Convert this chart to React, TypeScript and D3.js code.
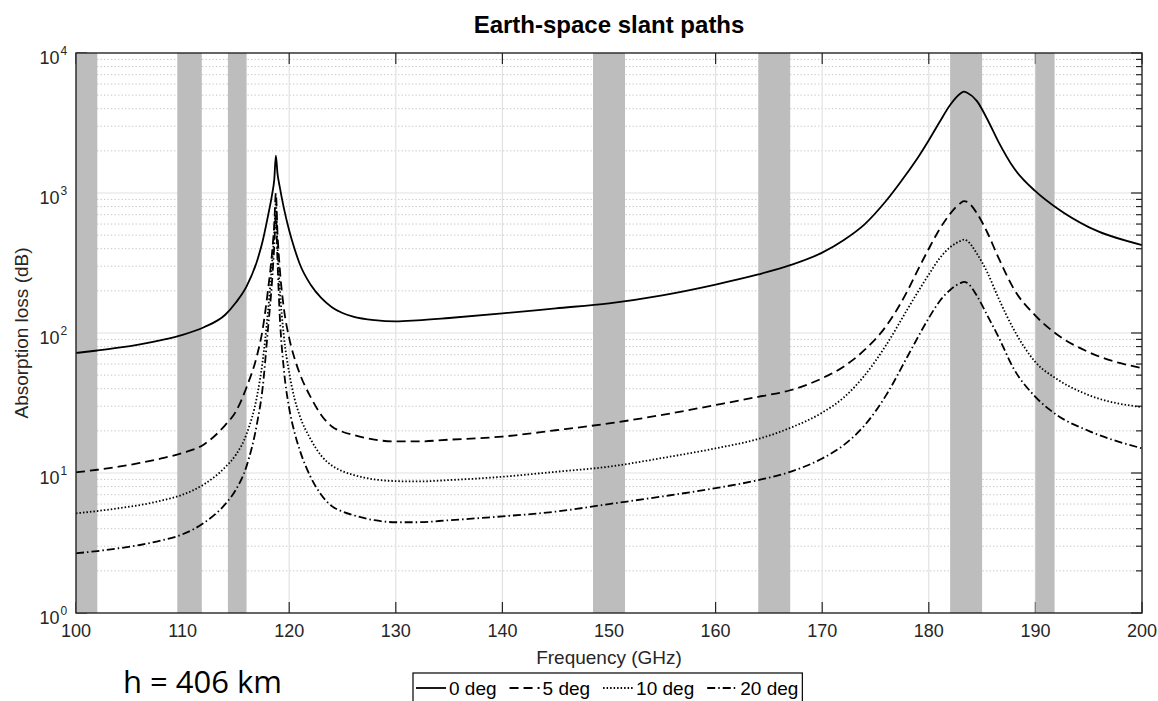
import React, { useEffect, useRef } from 'react';
import * as d3 from 'd3';

// frequency grid (GHz) shared by all four elevation curves
const freqGHz = [100, 102, 104, 106, 108, 110, 112, 114, 115, 116, 117, 117.5, 118, 118.4, 118.6, 118.75, 118.9, 119.1, 119.5, 120, 120.5, 121, 122, 123, 124, 125, 126, 128, 130, 132, 135, 140, 145, 150, 155, 160, 164, 167, 170, 172, 174, 176, 178, 179, 180, 181, 182, 183, 183.3, 183.6, 184.5, 185.5, 186.5, 188, 190, 192, 195, 200];

// absorption loss (dB)
const loss0deg = [72, 75, 78.5, 83, 89, 97, 110, 135, 165, 215, 330, 450, 680, 980, 1250, 1850, 1380, 1120, 780, 540, 400, 310, 222, 178, 153, 139, 131, 123.5, 121, 123, 128, 138, 150, 163, 186, 222, 262, 305, 375, 460, 600, 880, 1400, 1800, 2380, 3200, 4250, 5150, 5300, 5200, 4550, 3350, 2350, 1500, 1030, 780, 570, 425];
const loss5deg = [10.1, 10.55, 11.1, 11.8, 12.7, 13.9, 16.0, 22, 27.5, 41, 70, 105, 200, 380, 600, 1000, 520, 300, 150, 92, 66, 51, 35, 26, 21.5, 19.7, 18.7, 17.3, 16.8, 16.8, 17.3, 18.2, 20.2, 22.6, 26, 30.6, 35, 39, 47.5, 57.5, 76, 112, 200, 285, 400, 550, 710, 850, 875, 865, 720, 520, 350, 205, 133, 98, 73, 56];
const loss10deg = [5.15, 5.35, 5.6, 5.9, 6.35, 7.0, 8.3, 11, 13.5, 19, 36, 62, 140, 320, 520, 850, 420, 220, 95, 52, 34, 25.5, 17.5, 13.3, 11.3, 10.3, 9.7, 9.0, 8.75, 8.7, 8.9, 9.4, 10.2, 11.1, 12.8, 15, 17.5, 21, 27, 34.5, 50, 82, 148, 198, 262, 340, 410, 455, 465, 455, 370, 270, 180, 105, 62, 47, 36, 29.5];
const loss20deg = [2.67, 2.77, 2.9, 3.06, 3.3, 3.65, 4.4, 6.0, 7.6, 11.2, 23, 40, 105, 240, 420, 700, 330, 140, 55, 29, 19.5, 14.5, 9.4, 7.0, 5.8, 5.3, 5.0, 4.6, 4.45, 4.45, 4.6, 4.9, 5.3, 6.0, 6.8, 7.8, 8.9, 10.2, 12.7, 15.8, 22, 36, 68, 94, 128, 168, 203, 228, 232, 228, 185, 133, 95, 55, 35, 26, 20, 15];

const seriesNames = ['0 deg', '5 deg', '10 deg', '20 deg'];
const seriesValues = [loss0deg, loss5deg, loss10deg, loss20deg];
const seriesDash = ['none', '9,5', '1.5,2', '8,3,1.5,3'];

// passive bands (GHz), shaded grey
const bandStart = [100, 109.5, 114.25, 148.5, 164, 182, 190];
const bandEnd = [102, 111.8, 116, 151.5, 167, 185, 191.8];

const xTicks = [100, 110, 120, 130, 140, 150, 160, 170, 180, 190, 200];
const yDecades = [1, 10, 100, 1000, 10000];
const yExponents = ['0', '1', '2', '3', '4'];

const font = '"Liberation Sans", Arial, Helvetica, sans-serif';

export default function App() {
  const ref = useRef<SVGSVGElement>(null);

  const W = 1158;
  const H = 701;
  const margin = { top: 53, right: 16, bottom: 88, left: 76 };

  useEffect(() => {
    document.body.style.margin = '0';
    document.body.style.overflow = 'hidden';

    const svg = d3.select(ref.current);
    svg.selectAll('*').remove();

    const x = d3.scaleLinear().domain([100, 200]).range([margin.left, W - margin.right]);
    const y = d3.scaleLog().domain([1, 1e4]).range([H - margin.bottom, margin.top]);
    const [x0, x1] = x.range();
    const [yb, yt] = y.range();

    const minorVals: number[] = [];
    yDecades.slice(0, -1).forEach(d => {
      for (let k = 2; k <= 9; k++) minorVals.push(d * k);
    });

    // grid
    svg.append('g').selectAll('line').data(minorVals).join('line')
      .attr('x1', x0).attr('x2', x1)
      .attr('y1', d => y(d)).attr('y2', d => y(d))
      .attr('stroke', '#c4c4c4').attr('stroke-width', 1)
      .attr('stroke-dasharray', '1.3,2.2');
    svg.append('g').selectAll('line').data(yDecades.slice(1, -1)).join('line')
      .attr('x1', x0).attr('x2', x1)
      .attr('y1', d => y(d)).attr('y2', d => y(d))
      .attr('stroke', '#e2e2e2').attr('stroke-width', 1.2);
    svg.append('g').selectAll('line').data(xTicks.slice(1, -1)).join('line')
      .attr('x1', d => x(d)).attr('x2', d => x(d))
      .attr('y1', yt).attr('y2', yb)
      .attr('stroke', '#e2e2e2').attr('stroke-width', 1.2);

    // ticks (inside)
    const ticks = svg.append('g').attr('stroke', '#262626').attr('stroke-width', 1.2);
    xTicks.forEach(t => {
      ticks.append('line').attr('x1', x(t)).attr('x2', x(t)).attr('y1', yb).attr('y2', yb - 11);
      ticks.append('line').attr('x1', x(t)).attr('x2', x(t)).attr('y1', yt).attr('y2', yt + 11);
    });
    yDecades.forEach(t => {
      ticks.append('line').attr('x1', x0).attr('x2', x0 + 11).attr('y1', y(t)).attr('y2', y(t));
      ticks.append('line').attr('x1', x1).attr('x2', x1 - 11).attr('y1', y(t)).attr('y2', y(t));
    });
    minorVals.forEach(t => {
      ticks.append('line').attr('x1', x0).attr('x2', x0 + 6).attr('y1', y(t)).attr('y2', y(t));
      ticks.append('line').attr('x1', x1).attr('x2', x1 - 6).attr('y1', y(t)).attr('y2', y(t));
    });

    // bands
    svg.append('g').selectAll('rect').data(bandStart).join('rect')
      .attr('x', d => x(d))
      .attr('y', yt)
      .attr('width', (d, i) => x(bandEnd[i]) - x(d))
      .attr('height', yb - yt)
      .attr('fill', '#bdbdbd');

    // curves
    const line = d3.line<number>()
      .x((_, i) => x(freqGHz[i]))
      .y(d => y(d))
      .curve(d3.curveMonotoneX);
    svg.append('g').selectAll('path').data(seriesValues).join('path')
      .attr('d', d => line(d))
      .attr('fill', 'none')
      .attr('stroke', '#000')
      .attr('stroke-width', 1.8)
      .attr('stroke-dasharray', (_, i) => seriesDash[i]);

    // box
    svg.append('rect')
      .attr('x', x0).attr('y', yt).attr('width', x1 - x0).attr('height', yb - yt)
      .attr('fill', 'none').attr('stroke', '#262626').attr('stroke-width', 1.4);

    // tick labels
    svg.append('g').selectAll('text').data(xTicks).join('text')
      .attr('x', d => x(d)).attr('y', yb + 24)
      .attr('text-anchor', 'middle')
      .attr('font-family', font).attr('font-size', 18).attr('fill', '#262626')
      .text(d => d);
    const yl = svg.append('g').attr('font-family', font).attr('fill', '#262626');
    yDecades.forEach((d, i) => {
      yl.append('text').attr('x', 59.5).attr('y', y(d) + 11)
        .attr('text-anchor', 'end').attr('font-size', 18).text('10');
      yl.append('text').attr('x', 60.5).attr('y', y(d) + 2)
        .attr('font-size', 12).text(yExponents[i]);
    });

    // title and labels
    svg.append('text')
      .attr('x', (x0 + x1) / 2).attr('y', 33)
      .attr('text-anchor', 'middle')
      .attr('font-family', font).attr('font-weight', 'bold').attr('font-size', 24)
      .text('Earth-space slant paths');
    svg.append('text')
      .attr('x', (x0 + x1) / 2).attr('y', yb + 51)
      .attr('text-anchor', 'middle')
      .attr('font-family', font).attr('font-size', 19).attr('fill', '#262626')
      .text('Frequency (GHz)');
    svg.append('text')
      .attr('transform', `translate(28,${(yt + yb) / 2}) rotate(-90)`)
      .attr('text-anchor', 'middle')
      .attr('font-family', font).attr('font-size', 19).attr('fill', '#262626')
      .text('Absorption loss (dB)');

    // legend
    const leg = svg.append('g');
    const legTop = 673;
    const legLeft = 413;
    let cx = legLeft + 3;
    seriesNames.forEach((name, i) => {
      leg.append('line')
        .attr('x1', cx).attr('x2', cx + 30)
        .attr('y1', legTop + 15).attr('y2', legTop + 15)
        .attr('stroke', '#000').attr('stroke-width', 1.8)
        .attr('stroke-dasharray', seriesDash[i]);
      cx += 33;
      const t = leg.append('text')
        .attr('x', cx).attr('y', legTop + 22)
        .attr('font-family', font).attr('font-size', 19).attr('fill', '#000')
        .text(name);
      const w = (t.node() as SVGTextElement).getComputedTextLength();
      cx += w + 13;
    });
    leg.insert('rect', ':first-child')
      .attr('x', legLeft).attr('y', legTop)
      .attr('width', cx - 13 + 4 - legLeft).attr('height', 60)
      .attr('fill', '#fff').attr('stroke', '#000').attr('stroke-width', 1.2);

    // altitude note
    svg.append('text')
      .attr('x', 123).attr('y', 693)
      .attr('font-family', '"Open Sans", "Liberation Sans", sans-serif')
      .attr('font-size', 31).attr('fill', '#000')
      .text('h = 406 km');
  }, []);

  return <svg ref={ref} width={W} height={H} style={{ display: 'block', background: '#fff' }} />;
}
